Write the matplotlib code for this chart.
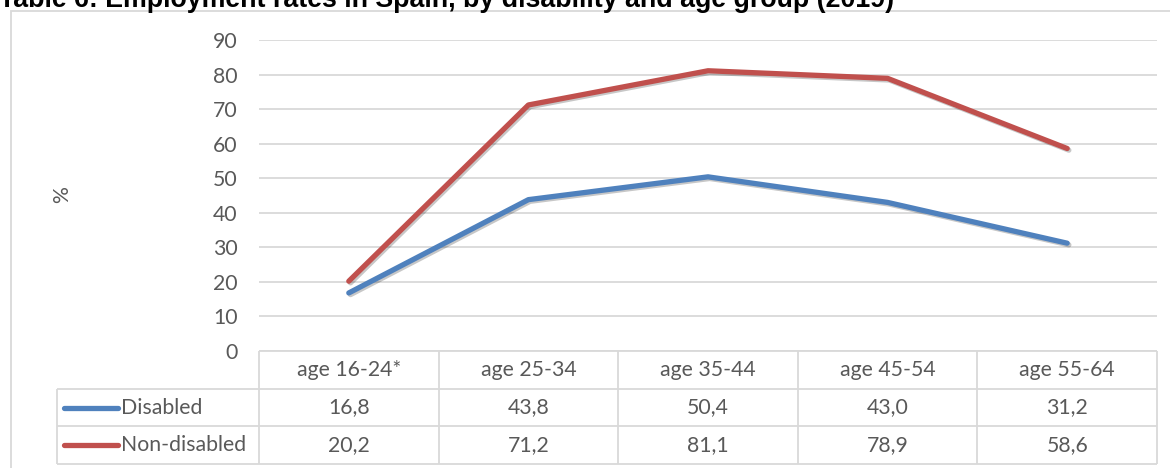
import matplotlib
matplotlib.use('Agg')
import matplotlib.pyplot as plt
from matplotlib.patches import Rectangle
import matplotlib.patheffects as pe

# ---- data ----
title = 'Table 6: Employment rates in Spain, by disability and age group (2019)'
categories = ['age 16-24*', 'age 25-34', 'age 35-44', 'age 45-54', 'age 55-64']
series_names = ['Disabled', 'Non-disabled']
disabled = [16.8, 43.8, 50.4, 43.0, 31.2]
non_disabled = [20.2, 71.2, 81.1, 78.9, 58.6]
y_ticks = [0, 10, 20, 30, 40, 50, 60, 70, 80, 90]
y_label = '%'

# ---- style ----
W, H = 1170, 468
FONT = ['Lato', 'DejaVu Sans']
TXT = '#595959'
GRID = '#d9d9d9'
COLORS = ['#4f81bd', '#c0504d']
FS = 15.3
LW = 3.8

plt.rcParams['font.family'] = FONT

fig = plt.figure(figsize=(W / 100, H / 100), dpi=100)


def fx(px):
    return px / W


def fy(py):
    return 1 - py / H


# plot area in pixels
L, R, T, B = 259, 1157, 40, 351
TB = 464

ax = fig.add_axes([fx(L), fy(B), (R - L) / W, (B - T) / H])
n = len(categories)
ax.set_xlim(-0.5, n - 0.5)
ax.set_ylim(0, 90)
ax.set_yticks(y_ticks)
ax.set_xticks([])
ax.yaxis.grid(True, color=GRID, lw=1.3)
ax.set_axisbelow(True)
for s in ax.spines.values():
    s.set_visible(False)
ax.tick_params(axis='y', length=0, pad=15.5, labelsize=FS, labelcolor=TXT)

shadow = [pe.SimpleLineShadow(offset=(1.2, -1.2), alpha=0.22, shadow_color='black'), pe.Normal()]
for vals, c in zip([disabled, non_disabled], COLORS):
    ax.plot(range(n), vals, color=c, lw=LW, solid_capstyle='round',
            solid_joinstyle='round', path_effects=shadow, zorder=3)

# ---- data table ----
tax = fig.add_axes([fx(L), fy(TB), (R - L) / W, (TB - B) / H])
tax.set_xlim(-0.5, n - 0.5)
tax.set_ylim(3, 0)
tax.axis('off')
unit = (R - L) / n  # px per category


def px2x(px):
    return -0.5 + (px - L) / unit


left_leg = px2x(57)
tl = dict(color=GRID, lw=1.3, clip_on=False, solid_capstyle='butt')
tax.plot([-0.5, n - 0.5], [0, 0], **tl)
for yy in (1, 2, 3):
    tax.plot([left_leg, n - 0.5], [yy, yy], **tl)
for k in range(n + 1):
    tax.plot([-0.5 + k, -0.5 + k], [0, 3], **tl)
tax.plot([left_leg, left_leg], [1, 3], **tl)

for i, cat in enumerate(categories):
    tax.text(i, 0.5, cat, ha='center', va='center', fontsize=FS, color=TXT)
for r, (vals, c, name) in enumerate(zip([disabled, non_disabled], COLORS, series_names)):
    yy = 1.5 + r
    for i, v in enumerate(vals):
        tax.text(i, yy, f'{v:.1f}'.replace('.', ','), ha='center', va='center',
                 fontsize=FS, color=TXT)
    tax.plot([px2x(64), px2x(118)], [yy, yy], color=c, lw=LW,
             solid_capstyle='round', clip_on=False)
    tax.text(px2x(121), yy, name, ha='left', va='center', fontsize=FS, color=TXT)

# ---- outer frame, title, axis label ----
fig.add_artist(Rectangle((fx(11), -0.2), 1.5, fy(11) + 0.2, transform=fig.transFigure,
                         fill=False, ec=GRID, lw=1.3))
fig.text(fx(-1), fy(7), title, ha='left', va='baseline', fontsize=19.3,
         fontweight='bold', color='black', family=['Liberation Sans', 'DejaVu Sans'])
fig.text(fx(62), fy(195), y_label, rotation=90, ha='center', va='center',
         fontsize=FS, color=TXT)

fig.savefig('out.png', dpi=100)
